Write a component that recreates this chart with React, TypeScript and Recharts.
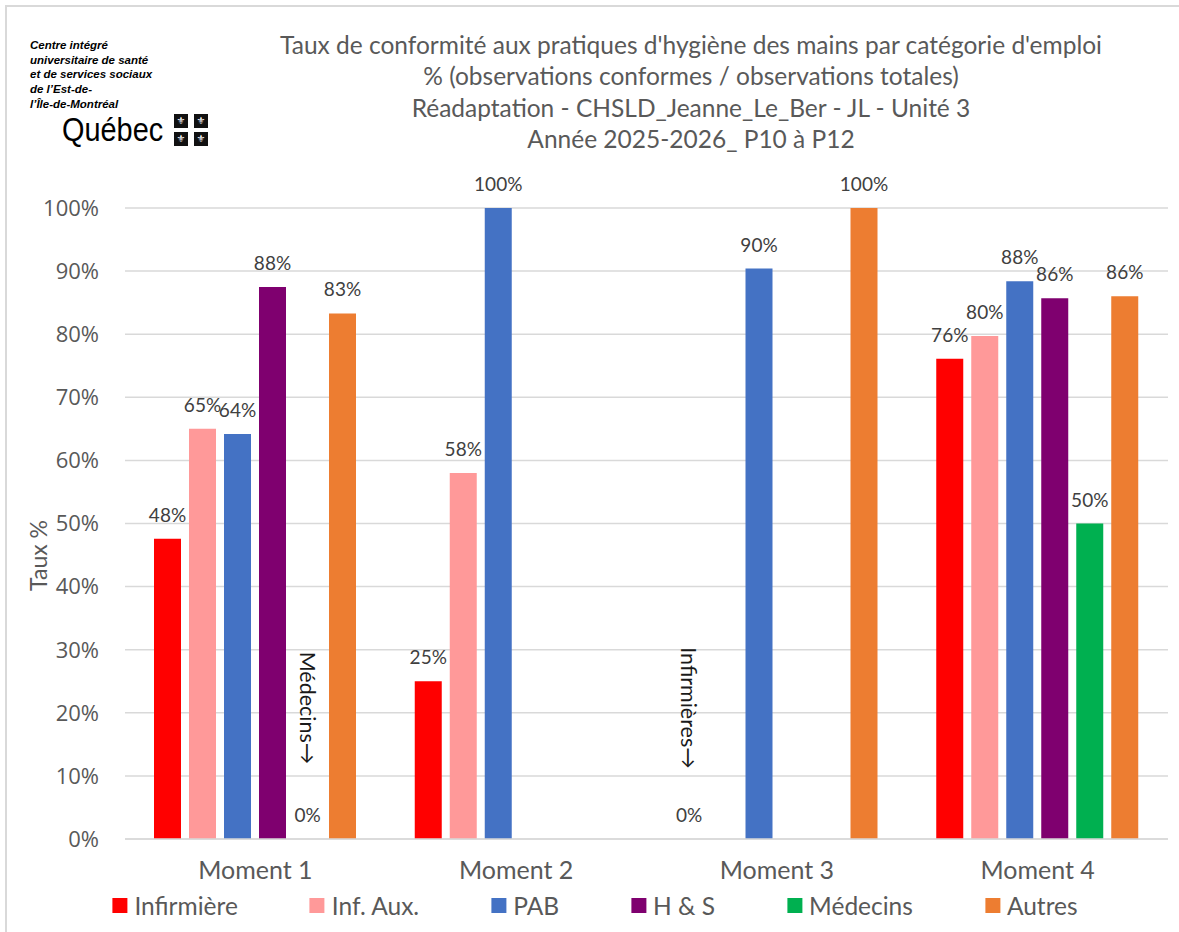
import { BarChart, Bar, XAxis, YAxis, CartesianGrid, LabelList, Label } from "recharts";

const categories = ["Moment 1", "Moment 2", "Moment 3", "Moment 4"];
const infirmiere = [47.6, 25, 0, 76.1];
const infAux = [65, 58, null, 79.7];
const pab = [64.2, 100, 90.4, 88.4];
const hs = [87.5, null, null, 85.7];
const medecins = [0, null, null, 50];
const autres = [83.3, null, 100, 86];
const yTicks = [0, 10, 20, 30, 40, 50, 60, 70, 80, 90, 100];

const titleLines = [
  "Taux de conformité aux pratiques d'hygiène des mains par catégorie d'emploi",
  "% (observations conformes / observations totales)",
  "Réadaptation - CHSLD_Jeanne_Le_Ber - JL - Unité 3",
  "Année 2025-2026_ P10 à P12",
];

const logoLines = [
  "Centre intégré",
  "universitaire de santé",
  "et de services sociaux",
  "de l’Est-de-",
  "l’Île-de-Montréal",
];

const series = [
  { key: "infirmiere", name: "Infirmière", color: "#FF0000", values: infirmiere },
  { key: "infAux", name: "Inf. Aux.", color: "#FF9999", values: infAux },
  { key: "pab", name: "PAB", color: "#4472C4", values: pab },
  { key: "hs", name: "H & S", color: "#7F006F", values: hs },
  { key: "medecins", name: "Médecins", color: "#00B050", values: medecins },
  { key: "autres", name: "Autres", color: "#ED7D31", values: autres },
];

// notes verticales posées au-dessus des barres à 0 %
const notes = [
  { series: "medecins", category: "Moment 1", text: "Médecins→" },
  { series: "infirmiere", category: "Moment 3", text: "Infirmières→" },
];

const data = categories.map((c, i) => {
  const row: any = { moment: c };
  series.forEach((s) => (row[s.key] = s.values[i]));
  return row;
});

const gray = "#595959";
const font = "Lato, 'Open Sans', sans-serif";

function makeLabel(key: string) {
  return (p: any) => {
    const { x, y, width, value, index } = p;
    if (value == null) return null;
    const cx = x + width / 2;
    const cat = p.payload?.moment ?? categories[index];
    const note = notes.find((n) => n.series === key && n.category === cat);
    return (
      <g>
        <text x={cx} y={y - 17} textAnchor="middle" fontSize={19} fill="#404040" fontFamily={font}>
          {`${Math.round(value)}%`}
        </text>
        {note && (
          <text
            x={cx}
            y={y - 131}
            transform={`rotate(90 ${cx} ${y - 131})`}
            textAnchor="middle"
            dominantBaseline="central"
            fontSize={21.5}
            fill="#1a1a1a"
            fontFamily={font}
          >
            {note.text}
          </text>
        )}
      </g>
    );
  };
}

function YTitle(props: any) {
  const vb = props.viewBox;
  const x = vb.x - 7;
  const y = vb.y + vb.height / 2 + 32;
  return (
    <text x={x} y={y} transform={`rotate(-90 ${x} ${y})`} textAnchor="middle" dominantBaseline="central" fontSize={23} fill={gray} fontFamily={font}>
      Taux %
    </text>
  );
}

// garder les barres à 0 pour que leur étiquette « 0% » soit dessinée
const keepZero = (v: any) => (v === 0 ? 0.01 : 0);

export default function App() {
  return (
    <div style={{ position: "absolute", left: 0, top: 0, width: 1179, height: 932, background: "#fff", overflow: "hidden" }}>
      <div style={{ position: "absolute", left: 5, top: 5, width: 1200, height: 1000, borderTop: "2px solid #d9d9d9", borderLeft: "2px solid #d9d9d9" }} />

      {/* logo */}
      <div style={{ position: "absolute", left: 30, top: 38, fontFamily: "'Liberation Sans', Arial, sans-serif", fontWeight: "bold", fontStyle: "italic", fontSize: 11.5, lineHeight: "14.7px", color: "#000" }}>
        {logoLines.map((l) => (
          <div key={l}>{l}</div>
        ))}
      </div>
      <div style={{ position: "absolute", left: 62, top: 109, fontFamily: "'Liberation Sans', Arial, sans-serif", fontSize: 34, lineHeight: "40px", color: "#000", transform: "scaleX(0.85)", transformOrigin: "left" }}>
        Québec
      </div>
      {[[174, 114], [194, 114], [174, 132], [194, 132]].map(([x, y], i) => (
        <div key={i} style={{ position: "absolute", left: x, top: y, width: 14, height: 14, background: "#111", color: "#fff", fontSize: 10, lineHeight: "14px", textAlign: "center", fontFamily: "'DejaVu Sans'" }}>
          ⚜
        </div>
      ))}

      {/* titre */}
      <div style={{ position: "absolute", left: 191, width: 1000, top: 29, textAlign: "center", fontFamily: font, fontSize: 24.5, lineHeight: "31.3px", color: gray }}>
        {titleLines.map((l) => (
          <div key={l}>{l}</div>
        ))}
      </div>

      <div style={{ position: "absolute", left: 0, top: 0 }}>
        <BarChart width={1179} height={932} data={data} margin={{ top: 208, right: 11, left: 45, bottom: 63 }} barSize={27} barGap={8}>
          <CartesianGrid vertical={false} stroke="#d9d9d9" strokeWidth={1.5} />
          <XAxis
            dataKey="moment"
            height={30}
            tickLine={false}
            axisLine={{ stroke: "#d9d9d9", strokeWidth: 1.5 }}
            tickMargin={16}
            tick={{ fill: gray, fontSize: 25, fontFamily: font }}
          />
          <YAxis
            width={80}
            domain={[0, 100]}
            ticks={yTicks}
            interval={0}
            tickFormatter={(v: number) => `${v}%`}
            axisLine={false}
            tickLine={false}
            tickMargin={20}
            tick={{ fill: gray, fontSize: 22, fontFamily: "'Open Sans', sans-serif" }}
          >
            <Label content={YTitle} />
          </YAxis>
          {series.map((s) => (
            <Bar key={s.key} dataKey={s.key} name={s.name} fill={s.color} minPointSize={keepZero} isAnimationActive={false}>
              <LabelList dataKey={s.key} content={makeLabel(s.key)} />
            </Bar>
          ))}
        </BarChart>
      </div>

      {/* légende */}
      <div style={{ position: "absolute", left: 595, top: 891, transform: "translateX(-50%)", display: "flex", gap: 72, whiteSpace: "nowrap", fontFamily: font, fontSize: 24.5, color: gray, alignItems: "center" }}>
        {series.map((s) => (
          <div key={s.key} style={{ display: "flex", alignItems: "center", gap: 7 }}>
            <div style={{ width: 15, height: 15, background: s.color }} />
            <span>{s.name}</span>
          </div>
        ))}
      </div>
    </div>
  );
}
